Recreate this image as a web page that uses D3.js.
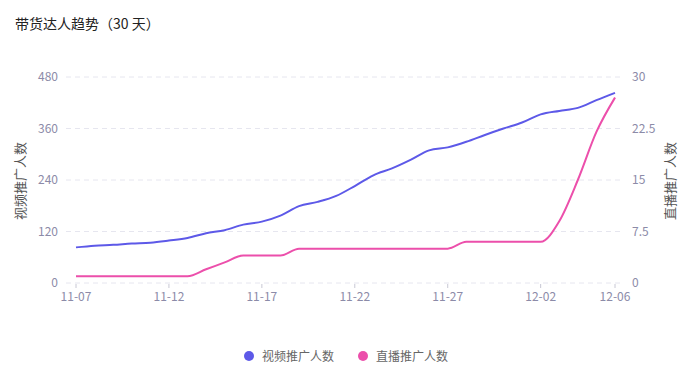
<!DOCTYPE html>
<html>
<head>
<meta charset="utf-8">
<script src="https://cdn.jsdelivr.net/npm/d3@7"></script>
<style>
  body { margin: 0; background: #fff; font-family: "Noto Sans CJK SC", "Noto Sans", sans-serif; }
</style>
</head>
<body>
<div id="chart"></div>
<script>
// dates and the two series
var days = ["11-07","11-08","11-09","11-10","11-11","11-12","11-13","11-14","11-15","11-16",
            "11-17","11-18","11-19","11-20","11-21","11-22","11-23","11-24","11-25","11-26",
            "11-27","11-28","11-29","11-30","12-01","12-02","12-03","12-04","12-05","12-06"];
var videoCount = [83, 87, 89, 92, 94, 99, 105, 116, 123, 136,
                  143, 157, 179, 189, 203, 226, 251, 267, 287, 309,
                  316, 329, 345, 360, 374, 393, 401, 408, 426, 443];
var liveCount = [1, 1, 1, 1, 1, 1, 1, 2, 3, 4,
                 4, 4, 5, 5, 5, 5, 5, 5, 5, 5,
                 5, 6, 6, 6, 6, 6, 9, 15, 22, 27];
var shownDays = ["11-07","11-12","11-17","11-22","11-27","12-02","12-06"];
var leftTicks = [0, 120, 240, 360, 480];
var rightTicks = [0, 7.5, 15, 22.5, 30];
var seriesNames = ["视频推广人数", "直播推广人数"];
var colors = ["#5d59e8", "#ec4fab"];

var W = 700, H = 375;
var plotL = 76, plotR = 615, plotT = 77, plotB = 283;
var labelColor = "#8c8ba8";

var svg = d3.select("#chart").append("svg")
    .attr("width", W)
    .attr("height", H);

svg.append("text")
    .attr("x", 15).attr("y", 29)
    .attr("font-size", 14)
    .attr("fill", "#222")
    .text("带货达人趋势（30 天）");

var x = d3.scalePoint().domain(days).range([plotL, plotR]);
var yL = d3.scaleLinear().domain([0, 480]).range([plotB, plotT]);
var yR = d3.scaleLinear().domain([0, 30]).range([plotB, plotT]);

// grid
svg.append("g").selectAll("line")
    .data(leftTicks)
    .join("line")
    .attr("x1", 66).attr("x2", 624)
    .attr("y1", d => yL(d)).attr("y2", d => yL(d))
    .attr("stroke", "#e6e6ef")
    .attr("stroke-dasharray", "5,4");

// left axis labels
svg.append("g").selectAll("text")
    .data(leftTicks)
    .join("text")
    .attr("x", 58).attr("y", d => yL(d) + 4)
    .attr("text-anchor", "end")
    .attr("font-size", 12)
    .attr("fill", labelColor)
    .text(d => d);

// right axis labels
svg.append("g").selectAll("text")
    .data(rightTicks)
    .join("text")
    .attr("x", 632).attr("y", d => yR(d) + 4)
    .attr("font-size", 12)
    .attr("fill", labelColor)
    .text(d => d);

// x ticks and labels
var xg = svg.append("g");
xg.selectAll("line")
    .data(shownDays)
    .join("line")
    .attr("x1", d => x(d)).attr("x2", d => x(d))
    .attr("y1", plotB + 1).attr("y2", plotB + 5)
    .attr("stroke", "#c8c8d4");
xg.selectAll("text")
    .data(shownDays)
    .join("text")
    .attr("x", d => x(d)).attr("y", plotB + 18)
    .attr("text-anchor", "middle")
    .attr("font-size", 12)
    .attr("fill", labelColor)
    .text(d => d);

// axis titles
svg.append("text")
    .attr("transform", "translate(25,181) rotate(-90)")
    .attr("text-anchor", "middle")
    .attr("font-size", 13)
    .attr("fill", "#555")
    .text(seriesNames[0]);
svg.append("text")
    .attr("transform", "translate(675,181) rotate(-90)")
    .attr("text-anchor", "middle")
    .attr("font-size", 13)
    .attr("fill", "#555")
    .text(seriesNames[1]);

// lines
var lineL = d3.line()
    .x((d, i) => x(days[i]))
    .y(d => yL(d))
    .curve(d3.curveMonotoneX);
var lineR = d3.line()
    .x((d, i) => x(days[i]))
    .y(d => yR(d))
    .curve(d3.curveMonotoneX);

svg.append("path")
    .datum(liveCount)
    .attr("fill", "none")
    .attr("stroke", colors[1])
    .attr("stroke-width", 2)
    .attr("d", lineR);

svg.append("path")
    .datum(videoCount)
    .attr("fill", "none")
    .attr("stroke", colors[0])
    .attr("stroke-width", 2)
    .attr("d", lineL);

// legend
var legendX = [249, 363];
var lg = svg.append("g").selectAll("g")
    .data(seriesNames)
    .join("g")
    .attr("transform", (d, i) => "translate(" + legendX[i] + ",356)");
lg.append("circle")
    .attr("r", 5)
    .attr("fill", (d, i) => colors[i]);
lg.append("text")
    .attr("x", 13).attr("y", 4.5)
    .attr("font-size", 12)
    .attr("fill", "#666")
    .text(d => d);
</script>
</body>
</html>
